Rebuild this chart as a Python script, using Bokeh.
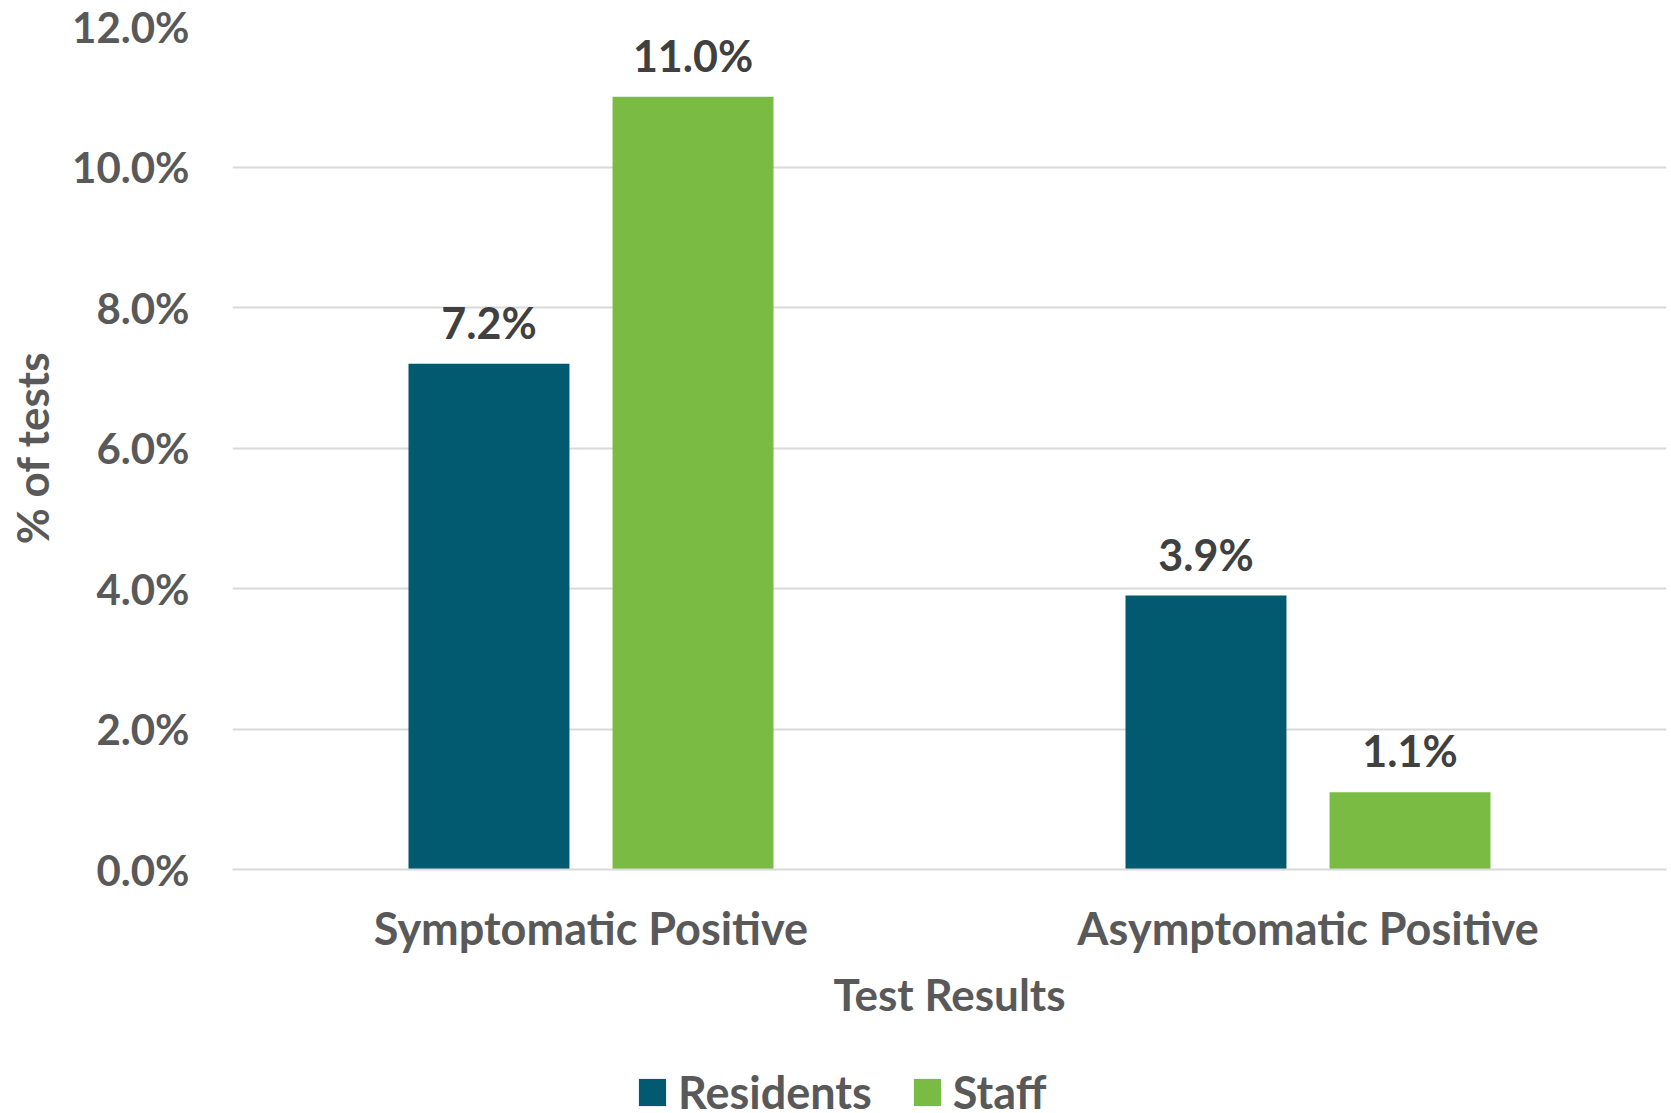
from bokeh.plotting import figure
from bokeh.layouts import column
from bokeh.models import (ColumnDataSource, FactorRange, Range1d, FixedTicker,
                          PrintfTickFormatter, LabelSet, Legend, LegendItem)
from bokeh.core.properties import value
from bokeh.transform import dodge
from bokeh.embed import file_html
from bokeh.resources import INLINE

# Share of tests returning a positive result, by group
categories = ["Symptomatic Positive", "Asymptomatic Positive"]
residents = [7.2, 3.9]
staff = [11.0, 1.1]
series_names = ["Residents", "Staff"]
y_ticks = [0, 2, 4, 6, 8, 10, 12]

FONT = "Lato"
AXIS_GREY = "#595959"
LABEL_GREY = "#404040"
COL_RES = "#025A70"
COL_STAFF = "#7ABC43"

W = 1671
H_MAIN = 1040
H_LEG = 73

src = ColumnDataSource(dict(
    cat=categories,
    residents=residents,
    staff=staff,
    res_lbl=[f"{v:.1f}%" for v in residents],
    staff_lbl=[f"{v:.1f}%" for v in staff],
))

p = figure(
    width=W, height=H_MAIN,
    x_range=FactorRange(*categories, range_padding=0, factor_padding=0),
    y_range=Range1d(0, 12),
    output_backend="svg", toolbar_location=None,
    min_border_left=232, min_border_right=5,
    min_border_top=26, min_border_bottom=H_MAIN - 869,
    outline_line_color=None,
)

bar_w = 0.2245
offset = 0.1423
p.vbar(x=dodge("cat", -offset, range=p.x_range), top="residents",
       width=bar_w, source=src, fill_color=COL_RES, line_color=None)
p.vbar(x=dodge("cat", offset, range=p.x_range), top="staff",
       width=bar_w, source=src, fill_color=COL_STAFF, line_color=None)

# value labels above each bar
for ycol, tcol, off in [("residents", "res_lbl", -offset), ("staff", "staff_lbl", offset)]:
    p.add_layout(LabelSet(
        x=dodge("cat", off, range=p.x_range), y=ycol, text=tcol, source=src,
        text_align="center", text_baseline="bottom", y_offset=16,
        text_font=value(FONT), text_font_style="bold", text_font_size="43px",
        text_color=LABEL_GREY,
    ))

# grid
p.xgrid.grid_line_color = None
p.ygrid.grid_line_color = "#D9D9D9"
p.ygrid.grid_line_width = 2

# y axis
ya = p.yaxis[0]
ya.ticker = FixedTicker(ticks=y_ticks)
ya.formatter = PrintfTickFormatter(format="%.1f%%")
ya.axis_line_color = None
ya.major_tick_line_color = None
ya.minor_tick_line_color = None
ya.major_tick_out = 0
ya.major_tick_in = 0
ya.major_label_standoff = 43
ya.major_label_text_font = FONT
ya.major_label_text_font_style = "bold"
ya.major_label_text_font_size = "42px"
ya.major_label_text_color = AXIS_GREY
ya.axis_label = "% of tests"
ya.axis_label_standoff = 11
ya.axis_label_text_font = FONT
ya.axis_label_text_font_style = "bold"
ya.axis_label_text_font_size = "44px"
ya.axis_label_text_color = AXIS_GREY

# x axis
xa = p.xaxis[0]
xa.axis_line_color = "#D9D9D9"
xa.axis_line_width = 2
xa.major_tick_line_color = None
xa.minor_tick_line_color = None
xa.major_tick_out = 0
xa.major_tick_in = 0
xa.major_label_standoff = 31
xa.major_label_text_font = FONT
xa.major_label_text_font_style = "bold"
xa.major_label_text_font_size = "45px"
xa.major_label_text_color = AXIS_GREY
xa.axis_label = "Test Results"
xa.axis_label_standoff = 10
xa.axis_label_text_font = FONT
xa.axis_label_text_font_style = "bold"
xa.axis_label_text_font_size = "44px"
xa.axis_label_text_color = AXIS_GREY

# legend strip under the chart (its frame lines up with the chart's frame)
leg_fig = figure(
    width=W, height=H_LEG, x_range=(0, 1), y_range=(0, 1),
    output_backend="svg", toolbar_location=None,
    x_axis_location=None, y_axis_location=None,
    min_border_left=0, min_border_right=0, min_border_top=0, min_border_bottom=0,
    outline_line_color=None,
)
leg_fig.grid.visible = False
# swatch renderers: a single zero-height bar each, so nothing shows on the strip
swatch = ColumnDataSource(dict(x=[0.5], top=[0.0]))
k_res = leg_fig.vbar(x="x", top="top", width=0.01, source=swatch,
                     fill_color=COL_RES, line_color=None)
k_staff = leg_fig.vbar(x="x", top="top", width=0.01, source=swatch,
                       fill_color=COL_STAFF, line_color=None)
legend = Legend(
    items=[LegendItem(label=series_names[0], renderers=[k_res]),
           LegendItem(label=series_names[1], renderers=[k_staff])],
    orientation="horizontal", location=(403, -6),
    label_text_font=FONT, label_text_font_style="bold",
    label_text_font_size="45px", label_text_color=AXIS_GREY,
    glyph_width=34, glyph_height=34, spacing=38, label_standoff=9,
    border_line_color=None, background_fill_alpha=0,
    margin=0, padding=0,
)
leg_fig.add_layout(legend, "center")

page = column(p, leg_fig, spacing=0)
open("out.html", "w").write(file_html(page, INLINE))
